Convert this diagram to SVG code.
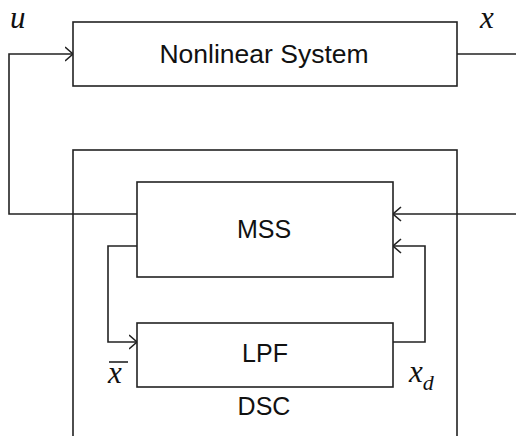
<svg xmlns="http://www.w3.org/2000/svg" width="516" height="436" viewBox="0 0 516 436">
<defs>
<style>
.box{fill:#fff;stroke:#222;stroke-width:1.6}
.ln{fill:none;stroke:#222;stroke-width:1.6}
.lbl{font-family:"Liberation Sans",Arial,sans-serif;font-size:25px;fill:#111;text-anchor:middle}
.var{font-family:"Liberation Serif","Times New Roman",serif;font-style:italic;font-size:31px;fill:#111}
</style>
<marker id="arr" viewBox="0 0 10 16" refX="8.5" refY="8" markerWidth="10" markerHeight="16" markerUnits="userSpaceOnUse" orient="auto">
<path d="M0.5,1 L8.5,8 L0.5,15" fill="none" stroke="#222" stroke-width="1.6"/>
</marker>
</defs>
<rect width="516" height="436" fill="#fff"/>
<g id="dsc">
<rect class="box" x="73" y="150" width="384" height="300"/>
<text class="lbl" x="264" y="415">DSC</text>
</g>
<g id="connectors">
<path class="ln" d="M137,214 H9 V54 H73" marker-end="url(#arr)"/>
<path class="ln" d="M457,54 H516"/>
<path class="ln" d="M516,214 H393" marker-end="url(#arr)"/>
<path class="ln" d="M393,342 H425 V246 H393" marker-end="url(#arr)"/>
<path class="ln" d="M137,246 H108 V342 H137" marker-end="url(#arr)"/>
</g>
<g id="nonlinear">
<rect class="box" x="73" y="22" width="384" height="64"/>
<text class="lbl" x="264" y="63" style="font-size:26.5px">Nonlinear System</text>
</g>
<g id="mss">
<rect class="box" x="137" y="182" width="256" height="95"/>
<text class="lbl" x="264" y="238">MSS</text>
</g>
<g id="lpf">
<rect class="box" x="137" y="323" width="256" height="64"/>
<text class="lbl" x="265" y="362">LPF</text>
</g>
<g id="labels">
<text class="var" x="10" y="28">u</text>
<text class="var" x="480" y="28">x</text>
<text class="var" x="108" y="383">x</text>
<path class="ln" d="M109,362 H128"/>
<text class="var" x="409" y="382">x<tspan font-size="22" dy="8">d</tspan></text>
</g>
</svg>
